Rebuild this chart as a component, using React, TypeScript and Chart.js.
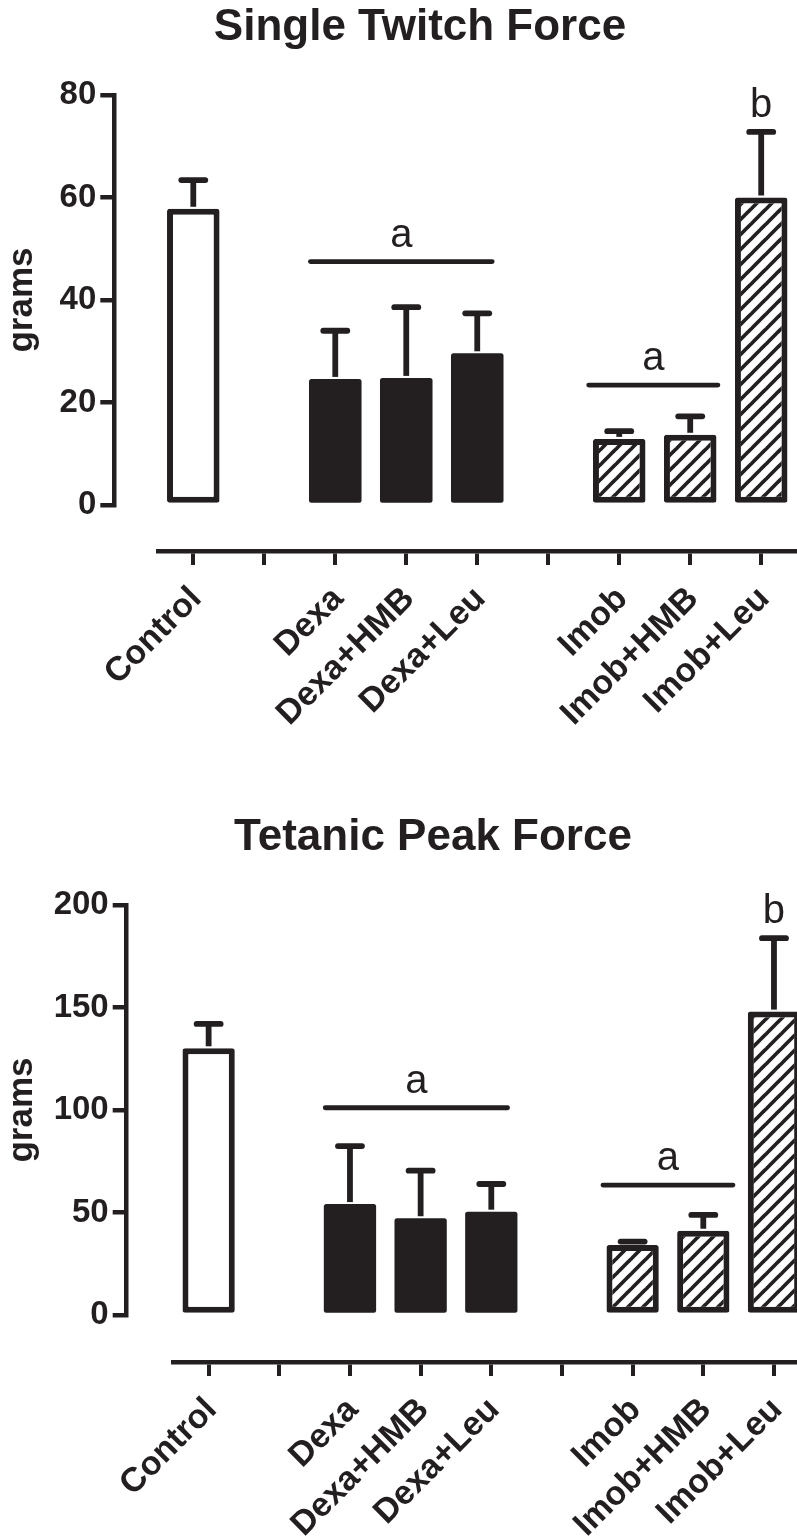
import React, { useEffect, useRef } from 'react';
import { Chart, registerables } from 'chart.js';

Chart.register(...registerables);

const INK = '#231f20';
const FONT = '"Liberation Sans", Arial, Helvetica, sans-serif';

// Categories (empty strings are the gaps between groups)
const categories = ['Control', '', 'Dexa', 'Dexa+HMB', 'Dexa+Leu', '', 'Imob', 'Imob+HMB', 'Imob+Leu'];
const barStyles = ['open', null, 'solid', 'solid', 'solid', null, 'hatched', 'hatched', 'hatched'];

// Single Twitch Force (grams)
const twitchMeans = [57.8, null, 24.6, 24.8, 29.6, null, 12.9, 13.7, 60.0];
const twitchErrors = [5.6, null, 9.4, 13.8, 7.8, null, 1.5, 3.6, 12.8];
const twitchTicks = [0, 20, 40, 60, 80];
const twitchSigLines = [
  { from: 1.65, to: 4.21, y: 47.5, label: 'a' },
  { from: 5.57, to: 7.39, y: 23.4, label: 'a' },
];
const twitchSigAbove = [{ index: 8, label: 'b' }];

// Tetanic Peak Force (grams)
const tetanicMeans = [130.1, null, 54.1, 47.2, 50.4, null, 34.1, 41.1, 148.0];
const tetanicErrors = [11.9, null, 28.3, 23.2, 13.5, null, 1.7, 7.7, 35.8];
const tetanicTicks = [0, 50, 100, 150, 200];
const tetanicSigLines = [
  { from: 1.65, to: 4.23, y: 101.1, label: 'a' },
  { from: 5.58, to: 7.42, y: 63.4, label: 'a' },
];
const tetanicSigAbove = [{ index: 8, label: 'b' }];

function makeHatch(ctx: CanvasRenderingContext2D) {
  const s = 15;
  const c = document.createElement('canvas');
  c.width = s;
  c.height = s;
  const g = c.getContext('2d')!;
  g.fillStyle = '#ffffff';
  g.fillRect(0, 0, s, s);
  g.strokeStyle = INK;
  g.lineWidth = 3.7;
  for (const k of [-1, 0, 1]) {
    g.beginPath();
    g.moveTo(k * s - 2, s + 2);
    g.lineTo(k * s + s + 2, -2);
    g.stroke();
  }
  return ctx.createPattern(c, 'repeat');
}

function errorBarPlugin(errors: (number | null)[]) {
  return {
    id: 'errorBars',
    afterDatasetsDraw(chart: any) {
      const meta = chart.getDatasetMeta(0);
      const ys = chart.scales.y;
      const values = chart.data.datasets[0].data as (number | null)[];
      const ctx = chart.ctx as CanvasRenderingContext2D;
      ctx.save();
      ctx.strokeStyle = INK;
      ctx.lineWidth = 5.8;
      meta.data.forEach((bar: any, i: number) => {
        const v = values[i];
        const e = errors[i];
        if (v == null || e == null) return;
        const x = bar.x;
        const y0 = ys.getPixelForValue(v);
        const y1 = ys.getPixelForValue(v + e);
        ctx.lineCap = 'butt';
        ctx.beginPath();
        ctx.moveTo(x, y0 - 2);
        ctx.lineTo(x, y1);
        ctx.stroke();
        ctx.lineCap = 'round';
        ctx.beginPath();
        ctx.moveTo(x - 12, y1);
        ctx.lineTo(x + 12, y1);
        ctx.stroke();
      });
      ctx.restore();
    },
  };
}

function sigPlugin(
  lines: { from: number; to: number; y: number; label: string }[],
  above: { index: number; label: string }[],
  errors: (number | null)[]
) {
  return {
    id: 'significance',
    afterDatasetsDraw(chart: any) {
      const xs = chart.scales.x;
      const ys = chart.scales.y;
      const values = chart.data.datasets[0].data as (number | null)[];
      const ctx = chart.ctx as CanvasRenderingContext2D;
      ctx.save();
      ctx.strokeStyle = INK;
      ctx.fillStyle = INK;
      ctx.lineWidth = 4.8;
      ctx.lineCap = 'round';
      ctx.font = `40px ${FONT}`;
      ctx.textAlign = 'center';
      ctx.textBaseline = 'alphabetic';
      lines.forEach((l) => {
        const x0 = xs.getPixelForValue(l.from);
        const x1 = xs.getPixelForValue(l.to);
        const y = ys.getPixelForValue(l.y);
        ctx.beginPath();
        ctx.moveTo(x0, y);
        ctx.lineTo(x1, y);
        ctx.stroke();
        ctx.fillText(l.label, (x0 + x1) / 2, y - 15);
      });
      above.forEach((a) => {
        const v = values[a.index] ?? 0;
        const e = errors[a.index] ?? 0;
        const x = xs.getPixelForValue(a.index);
        const y = ys.getPixelForValue(v + e);
        ctx.fillText(a.label, x, y - 15);
      });
      ctx.restore();
    },
  };
}

type Spec = {
  title: string;
  means: (number | null)[];
  errors: (number | null)[];
  ticks: number[];
  max: number;
  sigLines: { from: number; to: number; y: number; label: string }[];
  sigAbove: { index: number; label: string }[];
  yWidth: number;
  yGap: number;
  rightGap: number;
  xGap: number;
  xHeight: number;
};

function buildConfig(ctx: CanvasRenderingContext2D, spec: Spec): any {
  const hatch = makeHatch(ctx);
  const bg = barStyles.map((s) => (s === 'solid' ? INK : s === 'hatched' ? hatch : '#ffffff'));
  const bw = barStyles.map((s) => (s === 'solid' ? 0 : 6));
  const hidden = {
    display: true,
    grid: { display: false },
    border: { display: false },
    ticks: { display: false },
  };
  return {
    type: 'bar',
    data: {
      labels: categories,
      datasets: [
        {
          data: spec.means,
          xAxisID: 'x',
          yAxisID: 'y',
          backgroundColor: bg,
          borderColor: INK,
          borderWidth: bw,
          borderSkipped: false,
          borderRadius: 2.5,
          barPercentage: 0.74,
          categoryPercentage: 1,
        },
      ],
    },
    options: {
      responsive: false,
      animation: false,
      layout: { padding: 0 },
      plugins: {
        legend: { display: false },
        tooltip: { enabled: false },
        title: {
          display: true,
          text: spec.title,
          color: INK,
          font: { family: FONT, size: 44, weight: 'bold', lineHeight: 1.2 },
          padding: { top: 1, bottom: 41.2 },
        },
      },
      scales: {
        x: {
          type: 'category',
          position: 'bottom',
          weight: 1,
          offset: true,
          grid: {
            display: true,
            drawOnChartArea: false,
            drawTicks: true,
            tickLength: 14,
            lineWidth: 4,
            color: INK,
            offset: false,
          },
          border: { display: true, width: 4.5, color: INK },
          ticks: {
            autoSkip: false,
            maxRotation: 45,
            minRotation: 45,
            padding: 14,
            labelOffset: 3,
            color: INK,
            font: { family: FONT, size: 34, weight: 'bold' },
          },
          afterFit: (s: any) => {
            s.height = spec.xHeight;
          },
        },
        xGap: {
          type: 'linear',
          position: 'bottom',
          weight: 0,
          ...hidden,
          afterFit: (s: any) => {
            s.height = spec.xGap;
          },
        },
        y: {
          type: 'linear',
          position: 'left',
          weight: 1,
          min: 0,
          max: spec.max,
          grid: {
            display: true,
            drawOnChartArea: false,
            drawTicks: true,
            tickLength: 14,
            lineWidth: 4.5,
            color: INK,
          },
          border: { display: true, width: 4.5, color: INK },
          ticks: {
            padding: 4,
            color: INK,
            font: { family: FONT, size: 33, weight: 'bold' },
          },
          title: {
            display: true,
            text: 'grams',
            color: INK,
            font: { family: FONT, size: 35, weight: 'bold', lineHeight: 1.2 },
            padding: { top: 1, bottom: 0 },
          },
          afterBuildTicks: (s: any) => {
            s.ticks = spec.ticks.map((v) => ({ value: v }));
          },
          afterFit: (s: any) => {
            s.width = spec.yWidth;
          },
        },
        yGap: {
          type: 'linear',
          position: 'left',
          weight: 0,
          ...hidden,
          afterFit: (s: any) => {
            s.width = spec.yGap;
          },
        },
        yRight: {
          type: 'linear',
          position: 'right',
          weight: 0,
          ...hidden,
          afterFit: (s: any) => {
            s.width = spec.rightGap;
          },
        },
      },
    },
    plugins: [errorBarPlugin(spec.errors), sigPlugin(spec.sigLines, spec.sigAbove, spec.errors)],
  };
}

function ForceChart({ spec, width, height, top }: { spec: Spec; width: number; height: number; top: number }) {
  const ref = useRef<HTMLCanvasElement | null>(null);
  useEffect(() => {
    const canvas = ref.current;
    if (!canvas) return;
    const ctx = canvas.getContext('2d')!;
    const chart = new Chart(ctx, buildConfig(ctx, spec));
    return () => chart.destroy();
  }, [spec]);
  return (
    <canvas
      ref={ref}
      width={width}
      height={height}
      style={{ position: 'absolute', left: 0, top, width, height, display: 'block' }}
    />
  );
}

const twitchSpec: Spec = {
  title: 'Single Twitch Force',
  means: twitchMeans,
  errors: twitchErrors,
  ticks: twitchTicks,
  max: 80,
  sigLines: twitchSigLines,
  sigAbove: twitchSigAbove,
  yWidth: 114.3,
  yGap: 43.5,
  rightGap: 43.3,
  xGap: 46,
  xHeight: 259,
};

const tetanicSpec: Spec = {
  title: 'Tetanic Peak Force',
  means: tetanicMeans,
  errors: tetanicErrors,
  ticks: tetanicTicks,
  max: 200,
  sigLines: tetanicSigLines,
  sigAbove: tetanicSigAbove,
  yWidth: 126.7,
  yGap: 46.6,
  rightGap: 56.7,
  xGap: 47,
  xHeight: 258,
};

export default function App() {
  return (
    <div
      style={{
        position: 'absolute',
        left: 0,
        top: 0,
        width: 797,
        height: 1536,
        overflow: 'hidden',
        background: '#ffffff',
      }}
    >
      <ForceChart spec={twitchSpec} width={840} height={810} top={0} />
      <ForceChart spec={tetanicSpec} width={866} height={810} top={810} />
    </div>
  );
}
